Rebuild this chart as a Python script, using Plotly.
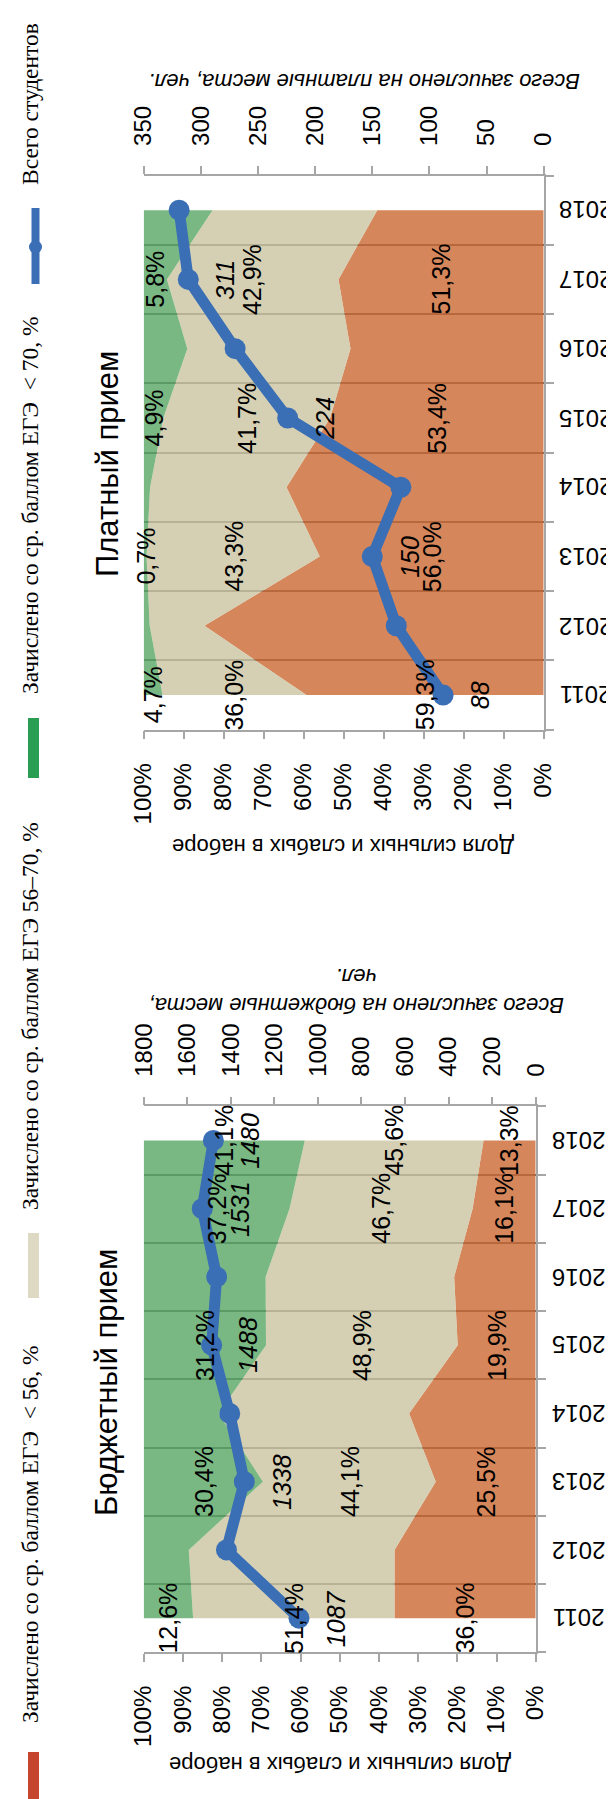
import plotly.graph_objects as go

# ---------------- data ----------------
years = ['2011', '2012', '2013', '2014', '2015', '2016', '2017', '2018']

budget_low = [36.0, 36.0, 25.5, 32.3, 19.9, 20.8, 16.1, 13.3]    # < 56
budget_mid = [51.4, 52.5, 44.1, 48.6, 48.9, 48.1, 46.7, 45.6]    # 56-70
budget_high = [12.6, 11.5, 30.4, 19.1, 31.2, 31.1, 37.2, 41.1]   # >= 70
budget_total = [1087, 1420, 1338, 1405, 1488, 1465, 1531, 1480]
budget_labeled = ['2011', '2013', '2015', '2017', '2018']

paid_low = [59.3, 84.8, 56.0, 64.3, 53.4, 48.3, 51.3, 41.6]
paid_mid = [36.0, 13.7, 43.3, 34.1, 41.7, 40.8, 42.9, 41.2]
paid_high = [4.7, 1.5, 0.7, 1.6, 4.9, 10.9, 5.8, 17.2]
paid_total = [88, 129, 150, 125, 224, 270, 311, 319]
paid_labeled = ['2011', '2013', '2015', '2017']

pct_ticks = list(range(0, 101, 10))
pct_ticktext = [f'{v}%' for v in pct_ticks]
budget_count_ticks = list(range(0, 1801, 200))
paid_count_ticks = list(range(0, 351, 50))

series_names = ['Зачислено со ср. баллом ЕГЭ  &lt; 56, %',
                'Зачислено со ср. баллом ЕГЭ 56–70, %',
                'Зачислено со ср. баллом ЕГЭ  &lt; 70, %',
                'Всего студентов']
panel_titles = ['Бюджетный прием', 'Платный прием']
pct_title = 'Доля сильных и слабых в наборе'
budget_count_title = 'Всего зачислено на бюджетные места,<br>чел.'
paid_count_title = 'Всего зачислено на платные места, чел.'

# ---------------- style ----------------
W, H = 614, 1799
area_colors = ['rgba(203,104,49,0.8)', 'rgba(203,196,160,0.8)', 'rgba(88,166,100,0.8)']
legend_colors = ['#C5452F', '#DDD9C3', '#2A9E52']
line_color = '#3A6EB5'
axis_gray = '#A6A6A6'
SANS = 'Liberation Sans, Arial, sans-serif'
SERIF = 'Liberation Serif, Times New Roman, serif'


def px_x(v):
    return v / W


def px_y(v):
    return (H - v) / H


fig = go.Figure()


def add_panel(low, mid, high, total, xa, xa2, ya, group):
    for vals, col in zip([low, mid, high], area_colors):
        fig.add_trace(go.Scatter(
            x=vals, y=years, xaxis=xa, yaxis=ya, stackgroup=group,
            orientation='h', mode='none', fillcolor=col,
            line=dict(width=0), showlegend=False, hoverinfo='skip'))
    fig.add_trace(go.Scatter(
        x=total, y=years, xaxis=xa2, yaxis=ya, mode='lines+markers',
        line=dict(color=line_color, width=11),
        marker=dict(color=line_color, size=21),
        showlegend=False, hoverinfo='skip'))


add_panel(budget_low, budget_mid, budget_high, budget_total, 'x', 'x2', 'y', 'b')
add_panel(paid_low, paid_mid, paid_high, paid_total, 'x3', 'x4', 'y2', 'p')

annotations = []


def fmt(v):
    return f'{v:.1f}'.replace('.', ',') + '%'


def add_labels(low, mid, high, total, labeled, xr, xr2, yr):
    for yr_s in labeled:
        i = years.index(yr_s)
        l, m, h = low[i], mid[i], high[i]
        for val, center in [(l, l / 2), (m, l + m / 2), (h, l + m + h / 2)]:
            annotations.append(dict(
                x=center, y=i, xref=xr, yref=yr, text=fmt(val), textangle=-90,
                xanchor='center', yanchor='middle',
                showarrow=False, font=dict(family=SANS, size=25, color='black')))
        annotations.append(dict(
            x=total[i], y=i, xref=xr2, yref=yr, text=f'<i>{total[i]}</i>',
            textangle=-90, xshift=37, xanchor='center', yanchor='middle', showarrow=False,
            font=dict(family=SANS, size=25, color='black')))


add_labels(budget_low, budget_mid, budget_high, budget_total, budget_labeled, 'x', 'x2', 'y')
add_labels(paid_low, paid_mid, paid_high, paid_total, paid_labeled, 'x3', 'x4', 'y2')


def year_labels(xr, yr, shift):
    # category tick labels, written upside down like in the source picture
    for i, yr_s in enumerate(years):
        annotations.append(dict(
            x=1, y=i, xref=f'{xr} domain', yref=yr, text=yr_s, textangle=180,
            xanchor='left', yanchor='middle', xshift=shift, showarrow=False,
            font=dict(family=SANS, size=24, color='black')))


year_labels('x', 'y', 15)
year_labels('x3', 'y2', 14)


def paper_text(xp, yp, text, angle, size, family=SANS):
    annotations.append(dict(x=px_x(xp), y=px_y(yp), xref='paper', yref='paper',
                            text=text, textangle=angle, showarrow=False,
                            xanchor='center', yanchor='middle',
                            font=dict(family=family, size=size, color='black')))


# panel titles
paper_text(98, 1374, panel_titles[0], -90, 31)
paper_text(99, 456, panel_titles[1], -90, 31)
# axis titles (upside down)
paper_text(332, 1757, pct_title, 180, 22)
paper_text(335, 839, pct_title, 180, 22)
paper_text(349, 983, f'<i>{budget_count_title}</i>', 180, 22)
paper_text(356, 73, f'<i>{paid_count_title}</i>', 180, 22)

# legend (rotated, built from annotations + shapes)
legend_text_y = [1526, 1008, 497, 96]
for name, yc in zip(series_names, legend_text_y):
    paper_text(22, yc, name, -90, 23.5, SERIF)

shapes = []
swatch_spans = [(1744, 1812), (1225, 1290), (710, 770)]
for (y0, y1), col in zip(swatch_spans, legend_colors):
    shapes.append(dict(type='rect', xref='paper', yref='paper',
                       x0=px_x(20), x1=px_x(31), y0=px_y(y1), y1=px_y(y0),
                       fillcolor=col, line=dict(width=0)))
shapes.append(dict(type='line', xref='paper', yref='paper',
                   x0=px_x(27.5), x1=px_x(27.5), y0=px_y(276), y1=px_y(200),
                   line=dict(color=line_color, width=8)))
shapes.append(dict(type='circle', xref='paper', yref='paper',
                   x0=px_x(21), x1=px_x(34), y0=px_y(245.5), y1=px_y(232.5),
                   fillcolor=line_color, line=dict(width=0)))

pct_axis = dict(range=[100, 0], tickmode='array', tickvals=pct_ticks, ticktext=pct_ticktext,
                tickangle=-90, ticks='outside', ticklen=8, tickwidth=1.5, tickcolor=axis_gray,
                showline=True, linecolor=axis_gray, linewidth=1.5, showgrid=False,
                zeroline=False, ticklabelstandoff=14, automargin=False,
                tickfont=dict(family=SANS, size=24, color='black'))


def count_axis(maxv, ticks, over, anchor):
    return dict(range=[maxv, 0], tickmode='array', tickvals=ticks,
                ticktext=[str(t) for t in ticks], side='top', overlaying=over, anchor=anchor,
                tickangle=-90, ticks='outside', ticklen=8, tickwidth=1.5, tickcolor=axis_gray,
                showline=True, linecolor=axis_gray, linewidth=1.5, showgrid=False,
                zeroline=False, ticklabelstandoff=15, automargin=False,
                tickfont=dict(family=SANS, size=24, color='black'))


def year_axis(domain, anchor):
    return dict(type='category', categoryorder='array', categoryarray=years,
                range=[-0.5, len(years) - 0.5], domain=domain, anchor=anchor, side='right',
                showticklabels=False, ticks='outside', tickson='boundaries', ticklen=9,
                tickwidth=1.5, tickcolor=axis_gray, showline=True, linecolor=axis_gray,
                linewidth=1.5, showgrid=True, gridcolor='#6A6A6A', gridwidth=1.5,
                zeroline=False, automargin=False)


fig.update_layout(
    width=W, height=H, margin=dict(l=0, r=0, t=0, b=0, autoexpand=False),
    paper_bgcolor='white', plot_bgcolor='white', showlegend=False,
    xaxis=dict(pct_axis, domain=[px_x(135.7), px_x(527.7)], anchor='y'),
    xaxis2=count_axis(1800, budget_count_ticks, 'x', 'y'),
    yaxis=year_axis([px_y(1644.3), px_y(1098.3)], 'x'),
    xaxis3=dict(pct_axis, domain=[px_x(135.7), px_x(535.7)], anchor='y2'),
    xaxis4=count_axis(350, paid_count_ticks, 'x3', 'y2'),
    yaxis2=year_axis([px_y(721.7), px_y(167.5)], 'x3'),
    annotations=annotations, shapes=shapes,
)

fig.write_html('out.html', config={'displayModeBar': False})
